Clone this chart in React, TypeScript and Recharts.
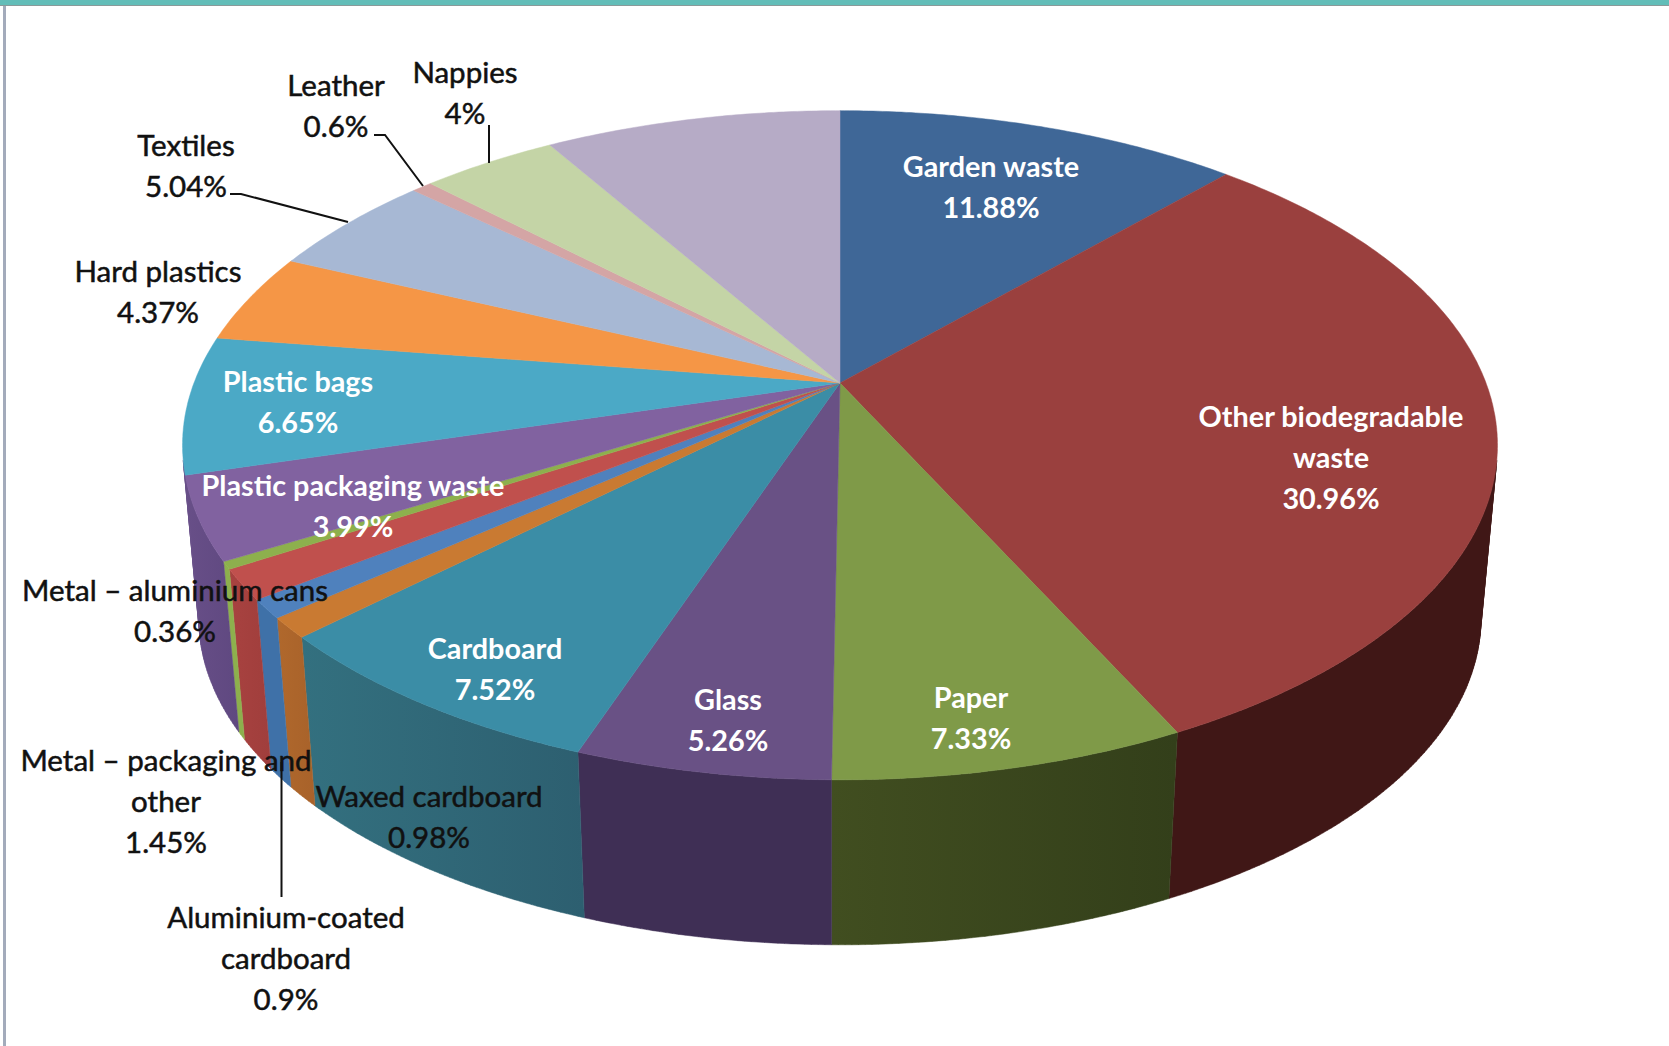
import React from "react";
import { PieChart, Pie } from "recharts";

const NAMES = ["Garden waste","Other biodegradable waste","Paper","Glass","Cardboard","Waxed cardboard","Aluminium-coated cardboard","Metal – packaging and other","Metal – aluminium cans","Plastic packaging waste","Plastic bags","Hard plastics","Textiles","Leather","Nappies","Unlabelled"];
const VALUES = [11.88,30.96,7.33,5.26,7.52,0.98,0.9,1.45,0.36,3.99,6.65,4.37,5.04,0.6,4,8.71];
const TOP_COLORS = ["#3F6797","#9A403E","#7F9A48","#695185","#3B8DA6","#C97A32","#4F81BD","#C0504D","#8DB04D","#8162A0","#4BA9C6","#F59646","#A7B8D4","#D4A5A5","#C4D4A6","#B6ABC6"];
const WALL_FROM = ["#26405E","#401716","#414E20","#3F2F55","#33707F","#B0682C","#3F71A8","#A84240","#8DB04D","#684F88","#684F88","#B86E30","#7E8BA0","#9F7C7C","#939F7D","#897F95"];
const WALL_TO = ["#26405E","#401716","#333F1A","#3F2F55","#2D5F70","#A8622A","#3F71A8","#A03E3C","#8DB04D","#5F4880","#684F88","#B86E30","#7E8BA0","#9F7C7C","#939F7D","#897F95"];

const LABEL_LINES: string[][] = [["Garden waste","11.88%"],["Other biodegradable","waste","30.96%"],["Paper","7.33%"],["Glass","5.26%"],["Cardboard","7.52%"],["Waxed cardboard","0.98%"],["Aluminium-coated","cardboard","0.9%"],["Metal – packaging and","other","1.45%"],["Metal – aluminium cans","0.36%"],["Plastic packaging waste","3.99%"],["Plastic bags","6.65%"],["Hard plastics","4.37%"],["Textiles","5.04%"],["Leather","0.6%"],["Nappies","4%"],[]];
const LABEL_X = [991,1331,971,728,495,429,286,166,175,353,298,158,186,336,465,0];
const LABEL_Y = [166,416,697,699,648,795,916,759,589,485,381,270,144,84,71,0];
const LABEL_FILL = ["#fff","#fff","#fff","#fff","#fff","#111","#111","#111","#111","#fff","#fff","#111","#111","#111","#111","#111"];
const LEADERS: Record<number,string> = {
  12: "230,194 241,194 348,222",
  13: "374,135 385,135 423,186",
  14: "489,125 489,163",
  6: "281.5,762 281.5,897",
};

const W = 1669, H = 1046;
const CX = 840, CY = 383, R = 646;
const K = 0.186, SQUASH = 0.5;
const S = 0.975, VX = 835, VY = 7380;
const LINE = 41;
const rad = Math.PI / 180;

type Pt = [number,number];
function top(cx:number, cy:number, r:number, deg:number):Pt{
  const x = Math.cos(deg*rad), y = Math.sin(deg*rad);
  const d = 1 + K*y;
  return [cx + r*x/d, cy - r*SQUASH*y/d];
}
function bottom(p:Pt):Pt{
  return [VX + S*(p[0]-VX), VY + S*(p[1]-VY)];
}
function arc(start:number,end:number):number[]{
  const n = Math.max(2, Math.ceil(Math.abs(end-start)*2));
  const out:number[]=[];
  for(let i=0;i<=n;i++) out.push(start+(end-start)*i/n);
  return out;
}
const toPath = (pts:Pt[]) => "M"+pts.map(p=>p[0].toFixed(1)+" "+p[1].toFixed(1)).join("L")+"Z";
function area(q:Pt[]){
  let s=0;
  for(let i=0;i<q.length;i++){const a=q[i],b=q[(i+1)%q.length];s+=a[0]*b[1]-b[0]*a[1];}
  return s/2;
}

function WallShape(p:any){
  const {cx,cy,outerRadius,startAngle,endAngle} = p;
  const i = NAMES.indexOf(p.name ?? p.payload?.name);
  const t = arc(startAngle,endAngle).map(a=>top(cx,cy,outerRadius,a));
  const faces:string[]=[];
  for(let j=0;j<t.length-1;j++){
    const q:Pt[]=[t[j],t[j+1],bottom(t[j+1]),bottom(t[j])];
    // clockwise-going arc: keep only the outward, camera-facing quads
    if(area(q)<0) faces.push(toPath(q));
  }
  if(!faces.length) return <g/>;
  const id = "wall"+i;
  return <g>
    <defs><linearGradient id={id} x1="0" x2="1" y1="0" y2="0">
      <stop offset="0" stopColor={WALL_FROM[i]}/><stop offset="1" stopColor={WALL_TO[i]}/>
    </linearGradient></defs>
    <path d={faces.join("")} fill={`url(#${id})`} stroke={`url(#${id})`} strokeWidth={0.5}/>
  </g>;
}
function TopShape(p:any){
  const {cx,cy,outerRadius,startAngle,endAngle} = p;
  const i = NAMES.indexOf(p.name ?? p.payload?.name);
  const t = arc(startAngle,endAngle).map(a=>top(cx,cy,outerRadius,a));
  return <path d={toPath([[cx,cy],...t])} fill={TOP_COLORS[i]} stroke={TOP_COLORS[i]} strokeWidth={0.5}/>;
}
function SliceLabel(p:any){
  const i = NAMES.indexOf(p.name ?? p.payload?.name);
  const lines = LABEL_LINES[i];
  if(!lines || !lines.length) return <g/>;
  const fill = LABEL_FILL[i];
  const white = fill==="#fff";
  return <g>
    {LEADERS[i] && <polyline points={LEADERS[i]} fill="none" stroke="#111" strokeWidth={2}/>}
    {lines.map((l,j)=><text key={j} x={LABEL_X[i]} y={LABEL_Y[i]+j*LINE} textAnchor="middle" dominantBaseline="central"
      fontFamily="Lato" fontWeight={white?700:400} fontSize={white?28.8:29.5} fill={fill} stroke={white?"none":fill} strokeWidth={white?0:0.5}>{l}</text>)}
  </g>;
}

const data = NAMES.map((name,i)=>({name,value:VALUES[i]}));

export default function App(){
  return <div style={{position:"absolute",left:0,top:0,width:W,height:H,background:"#fff",overflow:"hidden"}}>
    <div style={{position:"absolute",left:0,top:0,width:W,height:5,background:"#62BDB8",borderBottom:"1px solid #8a9a9a"}}/>
    <div style={{position:"absolute",left:3,top:6,width:3,height:H,background:"#A3ABBB"}}/>
    <PieChart width={W} height={H} style={{position:"absolute",left:0,top:0}} margin={{top:0,left:0,right:0,bottom:0}}>
      <Pie data={data} dataKey="value" nameKey="name" cx={CX} cy={CY} outerRadius={R} innerRadius={0} startAngle={90} endAngle={-270} isAnimationActive={false} shape={WallShape} activeShape={WallShape} label={false} labelLine={false}/>
      <Pie data={data} dataKey="value" nameKey="name" cx={CX} cy={CY} outerRadius={R} innerRadius={0} startAngle={90} endAngle={-270} isAnimationActive={false} shape={TopShape} activeShape={TopShape} label={SliceLabel} labelLine={false}/>
    </PieChart>
  </div>;
}
